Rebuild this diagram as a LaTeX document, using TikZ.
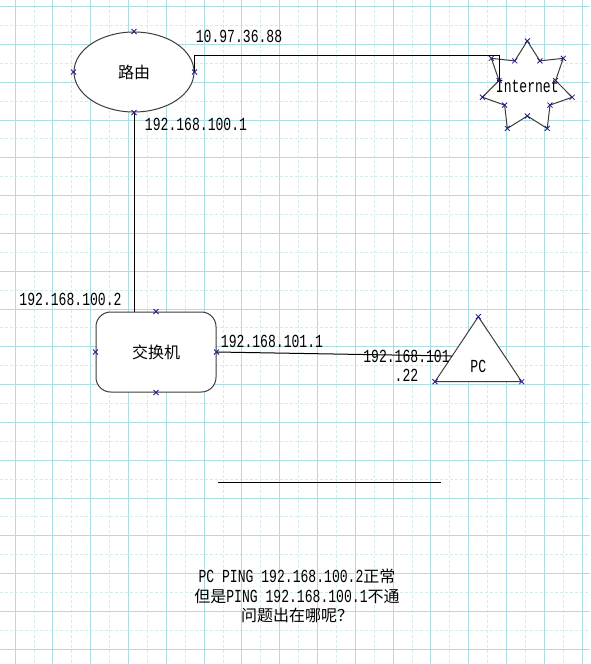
\documentclass[tikz,border=0pt]{standalone}
\usepackage{fontspec}
\setmainfont{Liberation Mono}[Scale=1.15,FakeStretch=0.711]
\newfontfamily\cjk{Noto Sans CJK SC}
\usetikzlibrary{shapes.geometric,calc}
\definecolor{gridmaj}{RGB}{172,221,227}
\definecolor{gridmin}{RGB}{212,236,240}
\definecolor{cpblue}{RGB}{30,30,140}
\definecolor{shapeline}{RGB}{60,60,60}
\tikzset{
  cpx/.pic={\draw[draw=cpblue, line width=0.6pt] (-2.5,-2.5)--(2.5,2.5) (-2.5,2.5)--(2.5,-2.5);}
}
\begin{document}
\begin{tikzpicture}[x=0.75pt,y=-0.75pt, font=\fontsize{12}{14.6}\selectfont,
  shapebox/.style={draw=shapeline, line width=0.75pt, fill=white, inner sep=0},
  conn/.style={draw=black, line width=0.75pt},
  lbl/.style={inner sep=0, text=black},
  majorgrid/.style={draw=gridmaj, line width=0.6pt},
  minorgrid/.style={draw=gridmin, line width=0.6pt, dash pattern=on 2.25pt off 1.5pt}]
\useasboundingbox (0,0) rectangle (590,664);
\fill[white] (0,0) rectangle (590,664);
% grid
\begin{scope}
\clip (0,0) rectangle (590,664);
\foreach \k in {0,...,14} \draw[minorgrid] ({33.9+37.8*\k},0) -- ++(0,664);
\foreach \k in {0,...,16} \draw[minorgrid] (0,{25.4+37.8*\k}) -- ++(590,0);
\foreach \k in {0,...,15} \draw[majorgrid] ({15+37.8*\k},0) -- ++(0,664);
\foreach \k in {0,...,17} \draw[majorgrid] (0,{6.5+37.8*\k}) -- ++(590,0);
\end{scope}

% router
\node[shapebox, ellipse, minimum width=90pt, minimum height=60pt] (router) at (134,72) {\cjk 路由};
% switch
\node[shapebox, rectangle, rounded corners=11pt, minimum width=90pt, minimum height=60pt] (switch) at (156,352) {\cjk 交换机};
% internet star
\foreach \i in {0,...,13}{
  \pgfmathsetmacro\rr{mod(\i,2)==0 ? 46 : 29}
  \coordinate (s\i) at ({527.3+\rr*cos(90-\i*180/7)},{87-\rr*sin(90-\i*180/7)});
}
\draw[shapebox] (s0) \foreach \i in {1,...,13}{ -- (s\i)} -- cycle;
\node[lbl] (inet) at (527.3,86) {Internet};
% PC triangle
\coordinate (pcT) at (478.3,316.7);
\coordinate (pcL) at (435,381.7);
\coordinate (pcR) at (521.7,381.7);
\draw[shapebox] (pcT) -- (pcR) -- (pcL) -- cycle;
\node[lbl] (pc) at (478.3,366) {PC};
\coordinate (pcin) at ($(pcT)!0.605!(pcL)$);

% connectors
\draw[conn] (router.east) -- ++(0,-17) -| (s11);
\draw[conn] (router.south) -- (router.south |- switch.north);
\draw[conn] (switch.east) -- (pcin);
\coordinate (hl1) at (218,482.5);
\coordinate (hl2) at (441,482.5);
\draw[conn] (hl1) -- (hl2);

% connection point marks
\foreach \p in {router.north,router.south,router.east,router.west,
  switch.north,switch.south,switch.east,switch.west,pcT,pcL,pcR}
  \pic at (\p) {cpx};
\foreach \i in {0,...,13} \pic at (s\i) {cpx};

% labels
\node[lbl] (l1) at (239,36) {10.97.36.88};
\node[lbl] (l2) at (196,124) {192.168.100.1};
\node[lbl] (l3) at (70.5,299) {192.168.100.2};
\node[lbl] (l4) at (272,341) {192.168.101.1};
\node[lbl, align=center] (l5) at (406.5,366) {192.168.101\\.22};
\node[lbl, align=center] (question) at (297,596)
  {PC PING 192.168.100.2{\cjk 正常}\\{\cjk 但是}PING 192.168.100.1{\cjk 不通}\\{\cjk 问题出在哪呢？}};
\end{tikzpicture}
\end{document}
